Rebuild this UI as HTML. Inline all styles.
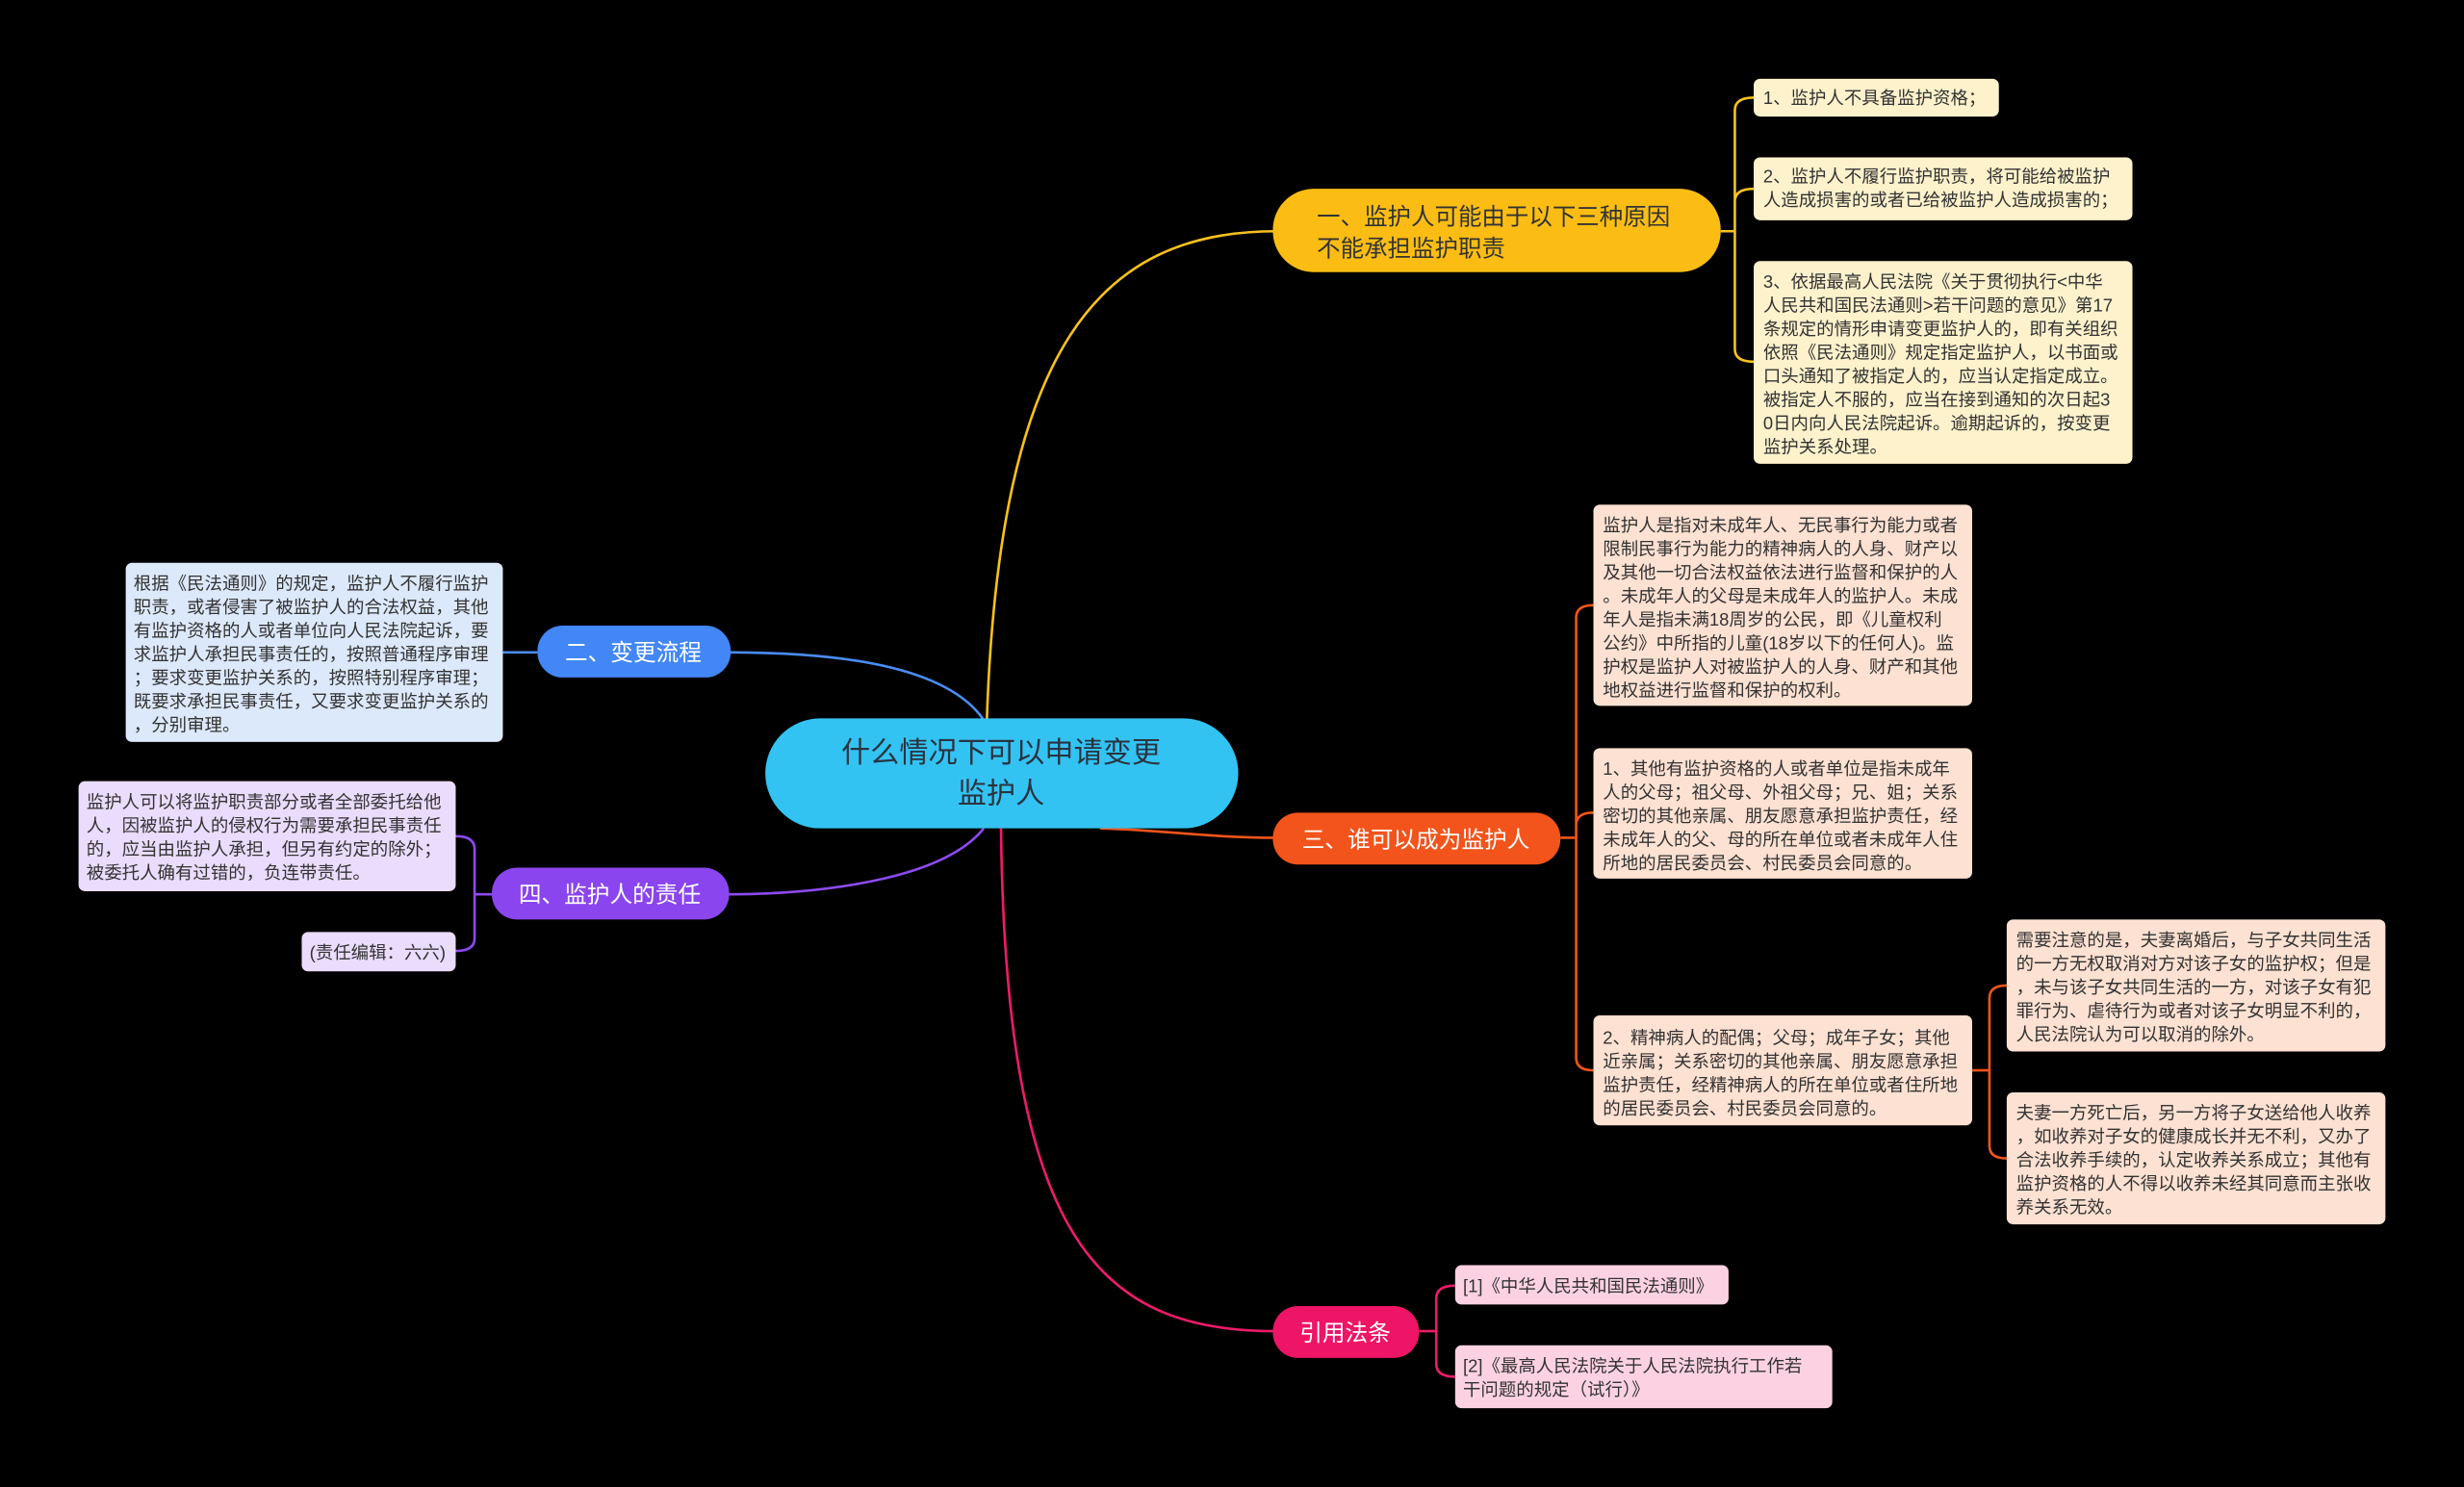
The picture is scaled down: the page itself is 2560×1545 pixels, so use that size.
<!DOCTYPE html>
<html><head><meta charset="utf-8"><style>
html,body{margin:0;padding:0;background:#000;}
svg{display:block;}
text{font-family:"Liberation Sans","Noto Sans CJK SC",sans-serif;}
.s{font-size:11.3px;fill:#333;}
</style></head><body>
<svg width="2560" height="1545" viewBox="0 0 1568 946" xmlns="http://www.w3.org/2000/svg">
<rect width="1568" height="946" fill="#000"/>
<g fill="none" stroke-width="1.6">
<path d="M628,458 C636,220 700,147 812,147" stroke="#f8c21c"/>
<path d="M626,458 C600,420 520,415 462,415" stroke="#4a8df5"/>
<path d="M700,527 C740,528 770,533 812,533" stroke="#f2541b"/>
<path d="M626,527 C600,560 520,569 462,569" stroke="#8d4af0"/>
<path d="M637,527 C640,790 700,847 812,847" stroke="#ee1b6a"/>
<!-- yellow bracket -->
<path d="M1095,147 H1104 M1104,147 V70 Q1104,62 1116,62 M1104,147 V128 Q1104,120 1116,120 M1104,147 V222 Q1104,230 1116,230" stroke="#f8c21c"/>
<!-- blue -->
<path d="M342,415 H320" stroke="#4a8df5"/>
<!-- orange bracket -->
<path d="M993,533 H1003 M1003,533 V393 Q1003,385 1014,385 M1003,533 V525 Q1003,517 1014,517 M1003,533 V673 Q1003,681 1014,681" stroke="#f2541b"/>
<path d="M1255,681 H1266 M1266,681 V635 Q1266,627 1277,627 M1266,681 V729 Q1266,737 1277,737" stroke="#f2541b"/>
<!-- purple bracket -->
<path d="M313,569 H302 M302,569 V540 Q302,532 290,532 M302,569 V597 Q302,605 290,605" stroke="#8d4af0"/>
<!-- pink bracket -->
<path d="M903,847 H914 M914,847 V826 Q914,818 926,818 M914,847 V868 Q914,876 926,876" stroke="#ee1b6a"/>
</g>

<!-- center -->
<rect x="487" y="457" width="301" height="70" rx="35" fill="#33c3f2"/>
<text x="637" y="485" font-size="18.5" fill="#2a3340" text-anchor="middle">什么情况下可以申请变更</text>
<text x="637" y="511" font-size="18.5" fill="#2a3340" text-anchor="middle">监护人</text>

<!-- branch 1 -->
<rect x="810" y="120" width="285" height="53" rx="26" fill="#fbbd14"/>
<text x="838" y="143" font-size="15" fill="#333">一、监护人可能由于以下三种原因</text>
<text x="838" y="163" font-size="15" fill="#333">不能承担监护职责</text>

<rect x="1116" y="50" width="156" height="24" rx="4" fill="#fdf2cc"/>
<text class="s" x="1122" y="66">1、监护人不具备监护资格；</text>
<rect x="1116" y="100" width="241" height="40" rx="4" fill="#fdf2cc"/>
<text class="s" x="1122" y="116">2、监护人不履行监护职责，将可能给被监护</text>
<text class="s" x="1122" y="131">人造成损害的或者已给被监护人造成损害的；</text>
<rect x="1116" y="166" width="241" height="129" rx="4" fill="#fdf2cc"/>
<text class="s" x="1122" y="183">3、依据最高人民法院《关于贯彻执行&lt;中华</text>
<text class="s" x="1122" y="198">人民共和国民法通则&gt;若干问题的意见》第17</text>
<text class="s" x="1122" y="213">条规定的情形申请变更监护人的，即有关组织</text>
<text class="s" x="1122" y="228">依照《民法通则》规定指定监护人，以书面或</text>
<text class="s" x="1122" y="243">口头通知了被指定人的，应当认定指定成立。</text>
<text class="s" x="1122" y="258">被指定人不服的，应当在接到通知的次日起3</text>
<text class="s" x="1122" y="273">0日内向人民法院起诉。逾期起诉的，按变更</text>
<text class="s" x="1122" y="288">监护关系处理。</text>

<!-- branch 2 -->
<rect x="342" y="398" width="123" height="33" rx="16" fill="#4287f5"/>
<text x="403" y="420" font-size="14.5" fill="#fff" text-anchor="middle">二、变更流程</text>
<rect x="80" y="358" width="240" height="114" rx="4" fill="#dce9fb"/>
<text class="s" x="85" y="375">根据《民法通则》的规定，监护人不履行监护</text>
<text class="s" x="85" y="390">职责，或者侵害了被监护人的合法权益，其他</text>
<text class="s" x="85" y="405">有监护资格的人或者单位向人民法院起诉，要</text>
<text class="s" x="85" y="420">求监护人承担民事责任的，按照普通程序审理</text>
<text class="s" x="85" y="435">；要求变更监护关系的，按照特别程序审理；</text>
<text class="s" x="85" y="450">既要求承担民事责任，又要求变更监护关系的</text>
<text class="s" x="85" y="465">，分别审理。</text>

<!-- branch 3 -->
<rect x="810" y="517" width="183" height="33" rx="16" fill="#f2541b"/>
<text x="901" y="539" font-size="14.5" fill="#fff" text-anchor="middle">三、谁可以成为监护人</text>
<rect x="1014" y="321" width="241" height="128" rx="4" fill="#fde1d2"/>
<text class="s" x="1020" y="338">监护人是指对未成年人、无民事行为能力或者</text>
<text class="s" x="1020" y="353">限制民事行为能力的精神病人的人身、财产以</text>
<text class="s" x="1020" y="368">及其他一切合法权益依法进行监督和保护的人</text>
<text class="s" x="1020" y="383">。未成年人的父母是未成年人的监护人。未成</text>
<text class="s" x="1020" y="398">年人是指未满18周岁的公民，即《儿童权利</text>
<text class="s" x="1020" y="413">公约》中所指的儿童(18岁以下的任何人)。监</text>
<text class="s" x="1020" y="428">护权是监护人对被监护人的人身、财产和其他</text>
<text class="s" x="1020" y="443">地权益进行监督和保护的权利。</text>
<rect x="1014" y="476" width="241" height="83" rx="4" fill="#fde1d2"/>
<text class="s" x="1020" y="493">1、其他有监护资格的人或者单位是指未成年</text>
<text class="s" x="1020" y="508">人的父母；祖父母、外祖父母；兄、姐；关系</text>
<text class="s" x="1020" y="523">密切的其他亲属、朋友愿意承担监护责任，经</text>
<text class="s" x="1020" y="538">未成年人的父、母的所在单位或者未成年人住</text>
<text class="s" x="1020" y="553">所地的居民委员会、村民委员会同意的。</text>
<rect x="1014" y="646" width="241" height="70" rx="4" fill="#fde1d2"/>
<text class="s" x="1020" y="664">2、精神病人的配偶；父母；成年子女；其他</text>
<text class="s" x="1020" y="679">近亲属；关系密切的其他亲属、朋友愿意承担</text>
<text class="s" x="1020" y="694">监护责任，经精神病人的所在单位或者住所地</text>
<text class="s" x="1020" y="709">的居民委员会、村民委员会同意的。</text>
<rect x="1277" y="585" width="241" height="84" rx="4" fill="#fde1d2"/>
<text class="s" x="1283" y="602">需要注意的是，夫妻离婚后，与子女共同生活</text>
<text class="s" x="1283" y="617">的一方无权取消对方对该子女的监护权；但是</text>
<text class="s" x="1283" y="632">，未与该子女共同生活的一方，对该子女有犯</text>
<text class="s" x="1283" y="647">罪行为、虐待行为或者对该子女明显不利的，</text>
<text class="s" x="1283" y="662">人民法院认为可以取消的除外。</text>
<rect x="1277" y="695" width="241" height="84" rx="4" fill="#fde1d2"/>
<text class="s" x="1283" y="712">夫妻一方死亡后，另一方将子女送给他人收养</text>
<text class="s" x="1283" y="727">，如收养对子女的健康成长并无不利，又办了</text>
<text class="s" x="1283" y="742">合法收养手续的，认定收养关系成立；其他有</text>
<text class="s" x="1283" y="757">监护资格的人不得以收养未经其同意而主张收</text>
<text class="s" x="1283" y="772">养关系无效。</text>

<!-- branch 4 -->
<rect x="313" y="552" width="151" height="33" rx="16" fill="#8a45ee"/>
<text x="388" y="574" font-size="14.5" fill="#fff" text-anchor="middle">四、监护人的责任</text>
<rect x="50" y="497" width="240" height="70" rx="4" fill="#eadcfc"/>
<text class="s" x="55" y="514">监护人可以将监护职责部分或者全部委托给他</text>
<text class="s" x="55" y="529">人，因被监护人的侵权行为需要承担民事责任</text>
<text class="s" x="55" y="544">的，应当由监护人承担，但另有约定的除外；</text>
<text class="s" x="55" y="559">被委托人确有过错的，负连带责任。</text>
<rect x="192" y="593" width="98" height="25" rx="4" fill="#eadcfc"/>
<text class="s" x="197" y="610">(责任编辑：六六)</text>

<!-- branch 5 -->
<rect x="810" y="831" width="93" height="33" rx="16" fill="#ee1466"/>
<text x="856" y="853" font-size="14.5" fill="#fff" text-anchor="middle">引用法条</text>
<rect x="926" y="805" width="174" height="25" rx="4" fill="#fcd2e2"/>
<text class="s" x="931" y="822">[1]《中华人民共和国民法通则》</text>
<rect x="926" y="856" width="240" height="40" rx="4" fill="#fcd2e2"/>
<text class="s" x="931" y="873">[2]《最高人民法院关于人民法院执行工作若</text>
<text class="s" x="931" y="888">干问题的规定（试行）》</text>
</svg>
</body></html>
